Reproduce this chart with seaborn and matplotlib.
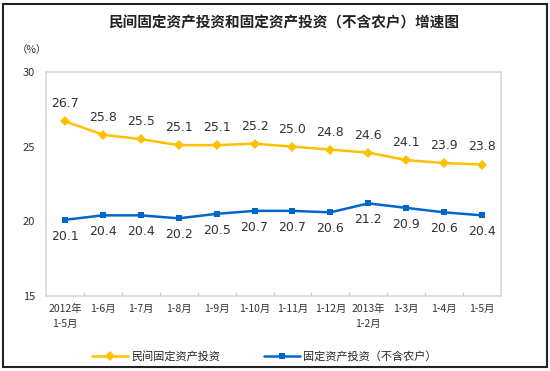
import matplotlib
matplotlib.use("Agg")
import matplotlib.pyplot as plt
import seaborn as sns
import pandas as pd
from matplotlib.patches import Rectangle

categories = ["2012年\n1-5月", "1-6月", "1-7月", "1-8月", "1-9月", "1-10月", "1-11月",
              "1-12月", "2013年\n1-2月", "1-3月", "1-4月", "1-5月"]
private_inv = [26.7, 25.8, 25.5, 25.1, 25.1, 25.2, 25.0, 24.8, 24.6, 24.1, 23.9, 23.8]
total_inv = [20.1, 20.4, 20.4, 20.2, 20.5, 20.7, 20.7, 20.6, 21.2, 20.9, 20.6, 20.4]
series_names = ["民间固定资产投资", "固定资产投资（不含农户）"]
yticks = [15, 20, 25, 30]

sns.set_theme(style="white")
plt.rcParams['font.family'] = ['Noto Sans CJK SC', 'DejaVu Sans']

idx = list(range(len(categories)))
df = pd.DataFrame({
    "x": idx * 2,
    "value": private_inv + total_inv,
    "series": [series_names[0]] * len(idx) + [series_names[1]] * len(idx),
})

fig = plt.figure(figsize=(5.5, 3.71), dpi=100)
ax = fig.add_axes([0.0836, 0.2022, 0.8274, 0.6038])

colors = {series_names[0]: "#FFC000", series_names[1]: "#0066CC"}
sns.lineplot(data=df, x="x", y="value", hue="series", style="series",
             markers={series_names[0]: "D", series_names[1]: "s"},
             dashes=False, palette=colors, linewidth=1.8, markersize=5,
             markeredgewidth=0, ax=ax, legend=True)

ax.set_xlim(-0.5, len(categories) - 0.5)
ax.set_ylim(15, 30)
ax.set_yticks(yticks)
ax.set_yticklabels([str(t) for t in yticks], fontsize=8, color="#333333")
ax.set_xticks(idx)
ax.set_xticklabels(categories, fontsize=7.5, color="#333333", linespacing=1.6)
ax.tick_params(axis="x", length=0, pad=6)
ax.tick_params(axis="y", length=0, pad=8)
ax.set_xticks([i + 0.5 for i in idx[:-1]], minor=True)
ax.tick_params(axis="x", which="minor", direction="in", length=3, color="#cccccc", bottom=True)
ax.set_xlabel("")
ax.set_ylabel("")
for s in ax.spines.values():
    s.set_color("#d9d9d9")
    s.set_linewidth(1.2)

for i, v in enumerate(private_inv):
    ax.annotate(f"{v:.1f}", (i, v), xytext=(0, 8), textcoords="offset points",
                ha="center", va="bottom", fontsize=9, color="#333333", family="DejaVu Sans")
for i, v in enumerate(total_inv):
    ax.annotate(f"{v:.1f}", (i, v), xytext=(0, -7), textcoords="offset points",
                ha="center", va="top", fontsize=9, color="#333333", family="DejaVu Sans")

fig.text(0.515, 0.94, "民间固定资产投资和固定资产投资（不含农户）增速图",
         ha="center", va="center", fontsize=10.5, color="#222222", fontweight="bold")
fig.text(0.058, 0.865, "（%）", ha="center", va="center", fontsize=7.5, color="#333333")

leg = ax.legend(loc="upper center", bbox_to_anchor=(0.48, -0.2), ncol=2, frameon=False,
                fontsize=8, handlelength=3.2, columnspacing=4, handletextpad=0.3)

fig.patches.append(Rectangle((0.006, 0.012), 0.988, 0.978, transform=fig.transFigure,
                             fill=False, edgecolor="#222222", linewidth=1.5))

fig.savefig("out.png", dpi=100)
